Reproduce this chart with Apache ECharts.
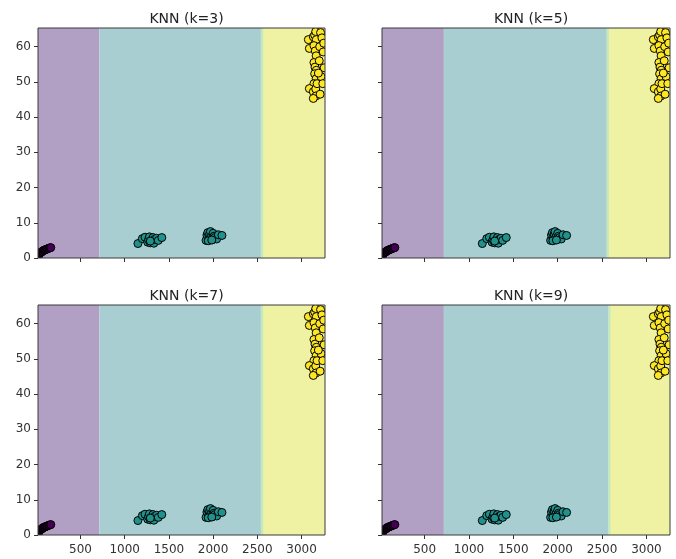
<!DOCTYPE html>
<html><head><meta charset="utf-8">
<script src="https://cdn.jsdelivr.net/npm/echarts@6/dist/echarts.min.js"></script>
<style>html,body{margin:0;padding:0;background:#fff}#c{width:676px;height:559px}</style>
</head><body><div id="c"></div>
<script>
// ---- data ----
const titles = ['KNN (k=3)', 'KNN (k=5)', 'KNN (k=7)', 'KNN (k=9)'];
const boundary01 = [714, 717, 714, 717];     // purple | teal decision boundary (x)
const boundary12 = [2552, 2562, 2552, 2580]; // teal | yellow decision boundary (x)
const xMin = 20, xMax = 3265, yMin = 0, yMax = 65.3;
const xTicks = [500, 1000, 1500, 2000, 2500, 3000];
const yTicks = [0, 10, 20, 30, 40, 50, 60];

const class0X = [24, 30, 42, 55, 63, 72, 80, 90, 98, 108, 118, 128, 140, 152, 165];
const class0Y = [0.5, 1.1, 1.4, 1.6, 1.8, 1.9, 2.1, 2.2, 2.3, 2.4, 2.5, 2.6, 2.75, 2.85, 2.95];

const class1X = [1150, 1200, 1230, 1260, 1270, 1280, 1290, 1300, 1310, 1320, 1330, 1340, 1360, 1380, 1420, 1290,
                 1920, 1930, 1940, 1950, 1960, 1970, 1980, 1990, 2000, 2010, 2020, 2040, 2060, 2100, 1945, 1985];
const class1Y = [4.1, 5.5, 5.9, 4.5, 5.2, 6.0, 4.3, 5.0, 4.7, 5.8, 4.2, 5.3, 5.6, 5.0, 5.8, 4.8,
                 5.0, 6.5, 7.2, 5.5, 6.8, 7.5, 6.0, 5.2, 7.0, 6.2, 5.8, 5.4, 6.6, 6.4, 4.9, 5.1];

const class2X = [3077, 3088, 3133, 3148, 3160, 3167, 3140, 3155, 3165, 3140, 3152, 3167, 3148, 3165, 3140, 3088,
                 3133, 3160, 3163, 3133, 3175, 3200, 3205, 3215, 3230, 3245, 3255, 3220, 3240, 3190, 3210, 3250];
const class2Y = [62.0, 59.5, 62.8, 63.3, 64.3, 62.0, 60.3, 58.8, 57.4, 55.5, 54.2, 53.3, 52.3, 50.9, 49.5, 48.1,
                 47.2, 48.0, 46.0, 45.3, 49.5, 56.0, 60.0, 64.0, 62.5, 58.5, 54.0, 51.5, 49.5, 52.5, 46.5, 61.0];

// ---- styles ----
const regionColors = ['#b29fc4', '#a8ced2', '#eef2a2'];
const stripColor = '#c4e8c2';
const pointColors = ['#440154', '#21918c', '#fde725'];
const FONT = 'DejaVu Sans';

const layouts = [
  {left: 38, top: 28, width: 287, height: 230, xl: false, yl: true},
  {left: 382, top: 28, width: 288, height: 230, xl: false, yl: false},
  {left: 38, top: 305, width: 287, height: 230, xl: true, yl: true},
  {left: 382, top: 305, width: 288, height: 230, xl: true, yl: false}
];

const grids = [], xAxes = [], yAxes = [], series = [], titleOpts = [];
const classes = [[class0X, class0Y], [class1X, class1Y], [class2X, class2Y]];

layouts.forEach((L, i) => {
  grids.push({left: L.left, top: L.top, width: L.width, height: L.height, show: true,
    backgroundColor: 'transparent', borderColor: '#3a3a3a', borderWidth: 1, z: 10});
  titleOpts.push({text: titles[i], left: L.left + L.width / 2, top: L.top - 21, textAlign: 'center',
    textStyle: {fontFamily: FONT, fontSize: 14, fontWeight: 'normal', color: '#222'}});
  xAxes.push({type: 'value', gridIndex: i, min: xMin, max: xMax,
    axisLine: {show: false}, splitLine: {show: false},
    axisTick: {show: true, length: 4, customValues: xTicks, lineStyle: {color: '#333'}},
    axisLabel: {show: L.xl, customValues: xTicks, margin: 9, fontFamily: FONT, fontSize: 12, color: '#333',
      formatter: v => String(v)}});
  yAxes.push({type: 'value', gridIndex: i, min: yMin, max: yMax,
    axisLine: {show: false}, splitLine: {show: false},
    axisTick: {show: true, length: 4, customValues: yTicks, lineStyle: {color: '#333'}},
    axisLabel: {show: L.yl, customValues: yTicks, margin: 7, fontFamily: FONT, fontSize: 12, color: '#333',
      formatter: v => String(v)}});

  const regions = [
    [xMin, boundary01[i], 0],
    [boundary01[i], boundary12[i], 1],
    [boundary12[i], xMax, 2],
    [boundary12[i] - 14, boundary12[i] + 14, 3]
  ];
  series.push({type: 'custom', xAxisIndex: i, yAxisIndex: i, clip: true, silent: true, z: 1,
    data: regions, encode: {x: [0, 1]},
    renderItem(params, api) {
      const p0 = api.coord([api.value(0), yMax]);
      const p1 = api.coord([api.value(1), yMin]);
      const c = api.value(2);
      return {type: 'rect', shape: {x: p0[0], y: p0[1], width: p1[0] - p0[0], height: p1[1] - p0[1]},
        style: {fill: c === 3 ? stripColor : regionColors[c]}};
    }});

  classes.forEach(([xs, ys], ci) => {
    series.push({type: 'custom', xAxisIndex: i, yAxisIndex: i, clip: true, silent: true, z: 3,
      data: xs.map((x, j) => [x, ys[j]]), encode: {x: 0, y: 1},
      renderItem(params, api) {
        const p = api.coord([api.value(0), api.value(1)]);
        return {type: 'circle', shape: {cx: p[0], cy: p[1], r: 4},
          style: {fill: pointColors[ci], stroke: '#000', lineWidth: 1}};
      }});
  });
});

const chart = echarts.init(document.getElementById('c'), null, {renderer: 'canvas'});
chart.setOption({animation: false, backgroundColor: '#fff', title: titleOpts,
  grid: grids, xAxis: xAxes, yAxis: yAxes, series});
</script></body></html>
